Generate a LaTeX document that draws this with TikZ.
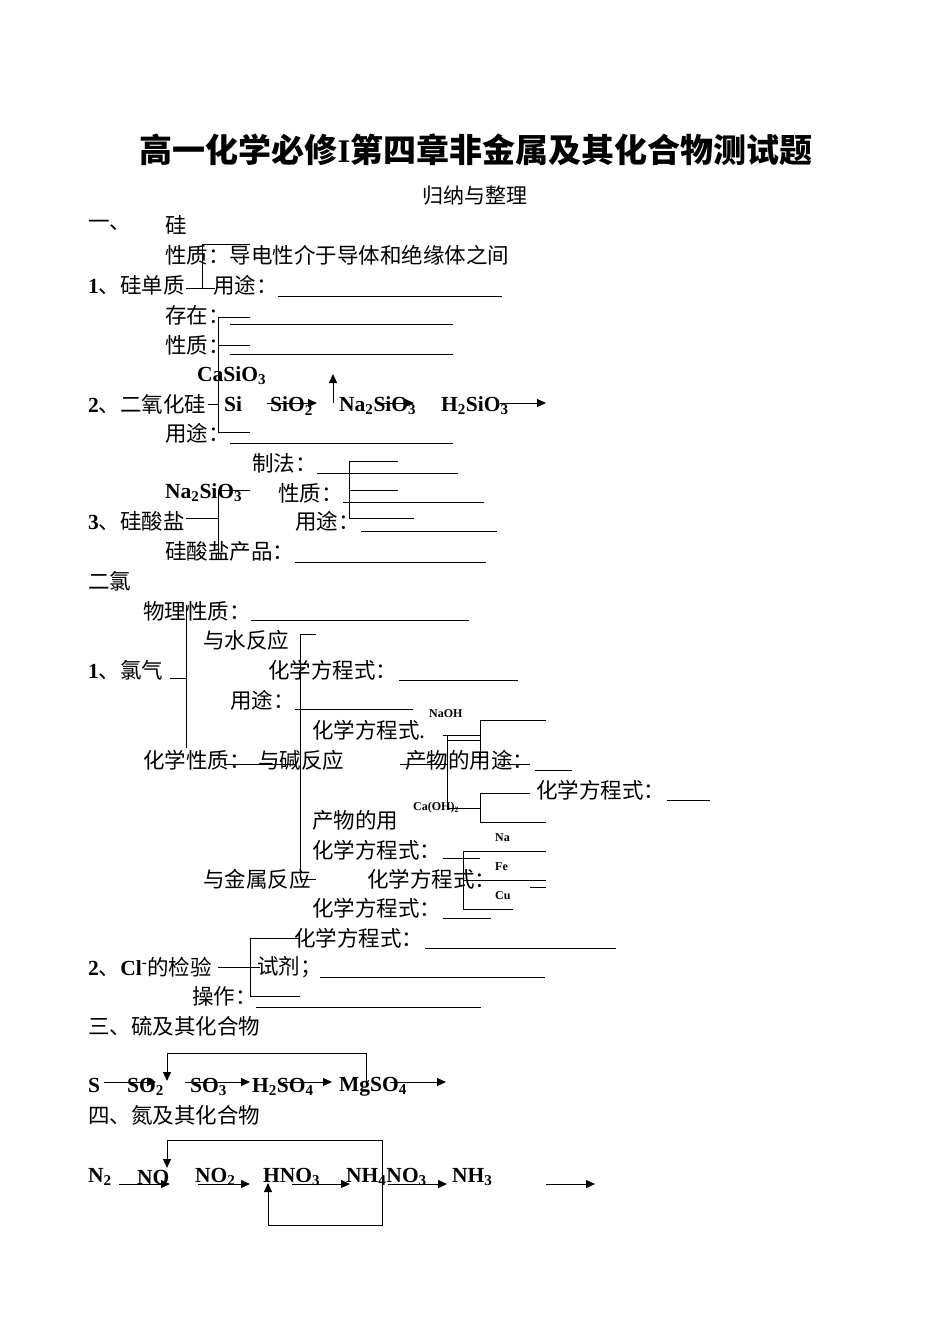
\documentclass[tikz,border=0pt]{standalone}
\usepackage{fontspec}
\setmainfont{Liberation Serif}
\newfontfamily\cjk{Noto Sans CJK SC}
\usetikzlibrary{arrows.meta}
\newcommand\C[1]{{\cjk\mdseries #1}}
\newcommand\CB[1]{{\cjk\bfseries #1}}
\newcommand\sub[1]{\textsubscript{#1}}
\tikzset{
 t/.style={anchor=west,inner sep=0pt,font=\fontsize{21.5}{21.5}\selectfont\bfseries},
 sm/.style={anchor=west,inner sep=0pt,font=\fontsize{12}{12}\selectfont\bfseries},
 ln/.style={line width=1pt},
 ar/.style={line width=1pt,-{Triangle[length=9pt,width=8pt]}}
}
\begin{document}
\begin{tikzpicture}[x=1pt,y=-1pt]
\useasboundingbox (0,0) rectangle (950,1342);
\node (title) at (476,150) {\fontsize{33}{33}\selectfont\bfseries\CB{高一化学必修}I\CB{第四章非金属及其化合物测试题}};
\node (sub) at (475,196) {\fontsize{21}{21}\selectfont\C{归纳与整理}};
\node[t] (a1) at (88,225) {\C{一、}};
\node[t] (a2) at (165,225) {\C{硅}};
\node[t] (a3) at (165,255) {\C{性质：导电性介于导体和绝缘体之间}};
\node[t] (a4) at (88,285) {1\C{、硅单质}};
\node[t] (a5) at (213,285) {\C{用途：}};
\draw[ln] (278,296)--(502,296);
\draw[ln] (186,288)--(215,288) (202,288)--(202,244)--(250,244);
\node[t] (b1) at (165,315) {\C{存在：}};
\node[t] (b2) at (165,345) {\C{性质：}};
\node[t] (b3) at (197,376) {CaSiO\sub{3}};
\node[t] (b4) at (88,404) {2\C{、二氧化硅}};
\node[t] (b5) at (224,404) {Si};
\node[t] (b6) at (270,406) {SiO\sub{2}};
\node[t] (b7) at (339,406) {Na\sub{2}SiO\sub{3}};
\node[t] (b8) at (441,406) {H\sub{2}SiO\sub{3}};
\node[t] (b9) at (165,433) {\C{用途：}};
\draw[ln] (218,317)--(218,432) (218,317)--(250,317) (218,345)--(250,345) (208,404)--(218,404) (218,432)--(250,432);
\draw[ln] (230,324)--(453,324) (230,354)--(453,354) (230,443)--(453,443);
\draw[ar] (267,403)--(317,403);
\draw[ar] (333,403)--(333,374);
\draw[ar] (378,403)--(414,403);
\draw[ar] (500,403)--(546,403);
\node[t] (c1) at (252,463) {\C{制法：}};
\draw[ln] (317,473)--(458,473);
\draw[ln] (349,461)--(349,518) (349,461)--(398,461) (349,490)--(398,490) (349,518)--(414,518);
\node[t] (c2) at (165,493) {Na\sub{2}SiO\sub{3}};
\node[t] (c3) at (278,493) {\C{性质：}};
\draw[ln] (343,502)--(484,502);
\node[t] (c4) at (88,521) {3\C{、硅酸盐}};
\node[t] (c5) at (295,521) {\C{用途：}};
\draw[ln] (361,531)--(497,531);
\draw[ln] (218,490)--(250,490) (186,518)--(218,518) (218,490)--(218,560);
\node[t] (c6) at (165,551) {\C{硅酸盐产品：}};
\draw[ln] (295,562)--(486,562);
\node[t] (d1) at (88,581) {\C{二氯}};
\node[t] (d2) at (143,611) {\C{物理性质：}};
\draw[ln] (251,620)--(469,620);
\draw[ln] (186,605)--(186,748) (170,678)--(186,678);
\node[t] (d3) at (203,640) {\C{与水反应}};
\draw[ln] (300,634)--(300,880) (300,634)--(316,634);
\node[t] (d4) at (88,670) {1\C{、氯气}};
\node[t] (d5) at (268,670) {\C{化学方程式：}};
\draw[ln] (399,680)--(518,680);
\node[t] (d6) at (230,700) {\C{用途：}};
\draw[ln] (295,709)--(413,709);
\node[sm] (e1) at (429,714) {NaOH};
\node[t] (e2) at (312,730) {\C{化学方程式.}};
\draw[ln] (443,735)--(480,735) (447,740)--(480,740) (447,735)--(447,808)--(480,808);
\draw[ln] (480,720)--(480,760) (480,720)--(546,720);
\draw[ln] (480,793)--(480,822) (480,793)--(530,793) (480,822)--(546,822);
\node[t] (e3) at (143,760) {\C{化学性质：}};
\node[t] (e4) at (258,760) {\C{与碱反应}};
\draw[ln] (225,764)--(295,764);
\node[t] (e5) at (405,760) {\C{产物的用途：}};
\draw[ln] (400,764)--(447,764) (500,764)--(530,764) (535,770)--(572,770);
\node[t] (e6) at (536,790) {\C{化学方程式：}};
\draw[ln] (667,800)--(710,800);
\node[sm] (e7) at (413,808) {Ca(OH)\sub{2}};
\node[t] (e8) at (312,820) {\C{产物的用}};
\node[sm] (f1) at (495,838) {Na};
\node[t] (f2) at (312,850) {\C{化学方程式：}};
\draw[ln] (443,858)--(480,858);
\draw[ln] (463,851)--(463,909) (463,851)--(546,851) (463,880)--(546,880) (463,909)--(513,909) (530,887)--(546,887);
\node[sm] (f3) at (495,867) {Fe};
\node[sm] (f4) at (495,896) {Cu};
\node[t] (f5) at (203,879) {\C{与金属反应}};
\draw[ln] (300,879)--(316,879);
\node[t] (f6) at (367,879) {\C{化学方程式：}};
\node[t] (f7) at (312,908) {\C{化学方程式：}};
\draw[ln] (443,918)--(491,918);
\node[t] (g1) at (294,938) {\C{化学方程式：}};
\draw[ln] (425,948)--(616,948);
\node[t] (g2) at (88,967) {2\C{、}Cl\textsuperscript{-}\C{的检验}};
\draw[ln] (218,967)--(260,967) (250,938)--(250,996) (250,938)--(300,938) (250,996)--(300,996);
\node[t] (g3) at (257,967) {\C{试剂；}};
\draw[ln] (320,977)--(545,977);
\node[t] (g4) at (192,996) {\C{操作：}};
\draw[ln] (256,1007)--(481,1007);
\node[t] (h1) at (88,1026) {\C{三、硫及其化合物}};
\node[t] (s1) at (88,1085) {S};
\node[t] (s2) at (127,1087) {SO\sub{2}};
\node[t] (s3) at (190,1087) {SO\sub{3}};
\node[t] (s4) at (252,1087) {H\sub{2}SO\sub{4}};
\node[t] (s5) at (339,1087) {MgSO\sub{4}};
\draw[ar] (104,1082)--(156,1082);
\draw[ar] (185,1082)--(250,1082);
\draw[ar] (283,1082)--(332,1082);
\draw[ar] (390,1082)--(446,1082);
\draw[ar] (366,1082)--(366,1053)--(167,1053)--(167,1081);
\node[t] (h2) at (88,1115) {\C{四、氮及其化合物}};
\node[t] (n1) at (88,1177) {N\sub{2}};
\node[t] (n2) at (137,1177) {NO};
\node[t] (n3) at (195,1177) {NO\sub{2}};
\node[t] (n4) at (263,1177) {HNO\sub{3}};
\node[t] (n5) at (346,1177) {NH\sub{4}NO\sub{3}};
\node[t] (n6) at (452,1177) {NH\sub{3}};
\draw[ar] (119,1184)--(170,1184);
\draw[ar] (198,1184)--(250,1184);
\draw[ar] (292,1184)--(350,1184);
\draw[ar] (388,1184)--(447,1184);
\draw[ar] (546,1184)--(595,1184);
\draw[ar] (382,1184)--(382,1140)--(167,1140)--(167,1168);
\draw[ar] (382,1184)--(382,1225)--(268,1225)--(268,1183);
\end{tikzpicture}
\end{document}
